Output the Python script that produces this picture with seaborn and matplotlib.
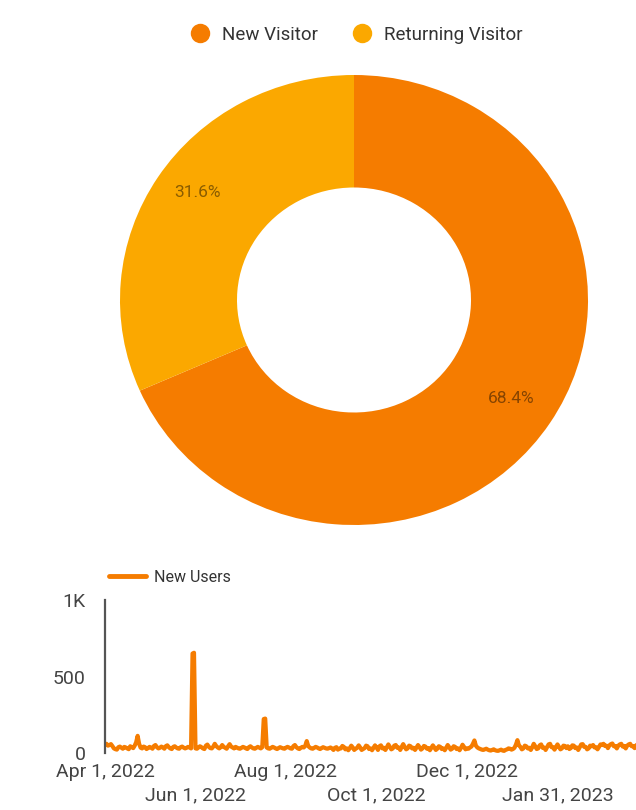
import numpy as np
import pandas as pd
import matplotlib
matplotlib.use("Agg")
import matplotlib.pyplot as plt
from matplotlib.lines import Line2D
import seaborn as sns

sns.set_theme(style="white")
plt.rcParams['font.family'] = ['Roboto', 'DejaVu Sans']

# ---- Donut data ----
segments = ["New Visitor", "Returning Visitor"]
shares = [68.4, 31.6]
seg_colors = ["#F57C00", "#FBA800"]

# ---- Daily new users, Apr 1 2022 .. Mar 31 2023 ----
apr = [55, 60, 48, 52, 58, 45, 30, 25, 22, 38, 42, 35, 28, 40, 36, 30, 25, 44, 38, 32, 48, 70, 112, 60, 35, 30, 42, 38, 26, 32]
may = [40, 35, 28, 46, 52, 38, 30, 34, 42, 36, 28, 45, 50, 38, 30, 26, 40, 44, 36, 30, 28, 38, 42, 35, 30, 34, 40, 36, 30, 650, 655]
jun = [30, 28, 36, 44, 38, 30, 26, 48, 55, 40, 32, 30, 42, 60, 45, 36, 30, 38, 52, 40, 34, 28, 44, 58, 42, 36, 30, 40, 35, 30]
jul = [28, 34, 40, 36, 30, 26, 38, 44, 36, 30, 28, 34, 40, 35, 30, 38, 222, 225, 36, 30, 28, 34, 40, 36, 30, 26, 32, 38, 34, 30, 28]
aug = [35, 40, 36, 30, 28, 45, 52, 38, 30, 26, 34, 40, 36, 48, 78, 45, 36, 30, 28, 34, 40, 36, 30, 26, 32, 38, 34, 30, 28, 32, 36]
sep = [30, 20, 34, 38, 22, 28, 30, 46, 40, 24, 30, 18, 32, 48, 36, 20, 28, 34, 50, 36, 20, 26, 32, 48, 44, 26, 30, 18, 34, 50]
oct_ = [36, 20, 44, 50, 30, 34, 20, 38, 56, 40, 24, 30, 48, 52, 34, 36, 20, 40, 58, 40, 24, 30, 48, 44, 30, 34, 20, 36, 52, 38, 22]
nov = [30, 46, 42, 28, 32, 18, 34, 50, 36, 20, 28, 44, 40, 26, 30, 18, 34, 52, 38, 22, 28, 44, 40, 26, 30, 18, 34, 54, 40, 24]
dec = [30, 28, 36, 42, 60, 82, 48, 36, 30, 26, 22, 20, 24, 28, 22, 18, 16, 20, 24, 18, 15, 14, 18, 22, 16, 14, 20, 24, 30, 28, 22]
jan = [26, 34, 55, 84, 50, 40, 24, 30, 48, 44, 30, 34, 20, 38, 60, 44, 26, 30, 50, 56, 34, 36, 20, 38, 56, 60, 38, 38, 22, 40, 56]
feb = [40, 24, 30, 48, 46, 32, 44, 26, 32, 50, 48, 32, 36, 20, 38, 56, 58, 40, 40, 24, 30, 48, 44, 52, 36, 38, 24, 40]
mar = [56, 52, 60, 46, 48, 32, 50, 58, 62, 44, 46, 30, 48, 56, 60, 42, 46, 30, 48, 56, 60, 44, 46, 32, 50, 56, 52, 36, 42, 48, 52]
new_users = apr + may + jun + jul + aug + sep + oct_ + nov + dec + jan + feb + mar
dates = pd.date_range("2022-04-01", periods=len(new_users), freq="D")

tick_dates = ["2022-04-01", "2022-06-01", "2022-08-01", "2022-10-01", "2022-12-01", "2023-01-31"]
tick_labels = ["Apr 1, 2022", "Jun 1, 2022", "Aug 1, 2022", "Oct 1, 2022", "Dec 1, 2022", "Jan 31, 2023"]
y_ticks = [0, 500, 1000]
y_labels = ["0", "500", "1K"]

line_color = "#F57C00"
W, H = 636, 810
fig = plt.figure(figsize=(W / 100, H / 100), dpi=100)
fig.patch.set_facecolor("white")

# ---- Donut ----
axp = fig.add_axes([120 / W, 1 - 525 / H, 468 / W, 450 / H])
wedges, texts, autotexts = axp.pie(
    shares, colors=seg_colors, startangle=90, counterclock=False,
    wedgeprops=dict(width=0.5, edgecolor="none"),
    autopct="%.1f%%", pctdistance=0.8,
    textprops=dict(fontsize=12.5, color=(0, 0, 0, 0.45)))
autotexts[1].set_position((autotexts[1].get_position()[0], autotexts[1].get_position()[1] + 0.04))
axp.set_xlim(-1, 1)
axp.set_ylim(-1, 1)
axp.set_aspect("auto")
axp.axis("off")

handles = [Line2D([0], [0], marker="o", linestyle="none", markersize=14,
                  markerfacecolor=c, markeredgecolor="none") for c in seg_colors]
fig.legend(handles, segments, loc="center", bbox_to_anchor=(352 / W, 1 - 35 / H),
           ncol=2, frameon=False, fontsize=13.5, handletextpad=0.2,
           columnspacing=1.3, labelcolor="#333333")

# ---- Line chart ----
axl = fig.add_axes([105 / W, 1 - 753 / H, (645 - 105) / W, 153 / H])
df = pd.DataFrame({"date": dates, "New Users": new_users})
sns.lineplot(data=df, x="date", y="New Users", ax=axl, color=line_color,
             linewidth=3.0, legend=False)
axl.set_xlim(pd.Timestamp("2022-04-01"), pd.Timestamp("2023-03-31"))
axl.set_ylim(0, 1000)
axl.set_yticks(y_ticks)
axl.set_yticklabels(y_labels)
tds = pd.to_datetime(tick_dates)
axl.set_xticks(tds[0::2])
axl.set_xticklabels(tick_labels[0::2])
axl.set_xticks(tds[1::2], minor=True)
axl.set_xticklabels(tick_labels[1::2], minor=True)
axl.tick_params(axis="y", length=0, pad=14, labelsize=14, labelcolor="#444444")
axl.tick_params(axis="x", which="major", length=0, pad=7, labelsize=14, labelcolor="#444444")
axl.tick_params(axis="x", which="minor", length=0, pad=24, labelsize=14, labelcolor="#444444")
axl.set_xlabel("")
axl.set_ylabel("")
for s in ["top", "right", "bottom"]:
    axl.spines[s].set_visible(False)
axl.spines["left"].set_color("#555555")
axl.spines["left"].set_linewidth(1.6)
axl.set_facecolor("none")

lh = [Line2D([0], [0], color=line_color, linewidth=3.5)]
fig.legend(lh, ["New Users"], loc="center left", bbox_to_anchor=(95 / W, 1 - 577 / H),
           frameon=False, fontsize=11.5, handlelength=2.3, handletextpad=0.5,
           labelcolor="#333333")

fig.savefig("out.png", dpi=100, facecolor="white")
